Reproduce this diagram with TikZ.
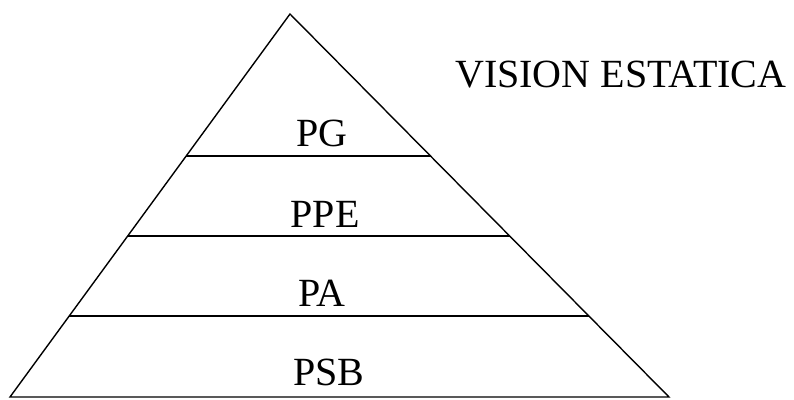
\documentclass[tikz,border=0pt]{standalone}
\usepackage{fontspec}
\setmainfont{Liberation Serif}
\usetikzlibrary{calc}
\begin{document}
\begin{tikzpicture}[x=1pt,y=-1pt,
  edge/.style={draw=black,line width=1.4pt},
  lbl/.style={font=\fontsize{40}{42}\selectfont,inner sep=0pt,anchor=base}]
\useasboundingbox[fill=white] (0,0) rectangle (794,399);
\coordinate (apex) at (290,14);
\coordinate (bl) at (10,397);
\coordinate (br) at (669,397);
\draw[edge,line join=miter] (bl) -- (apex) -- (br) -- cycle;
\foreach \t/\n in {0.3708/a,0.5796/b,0.7885/c}{
  \coordinate (l\n) at ($(apex)!\t!(bl)$);
  \coordinate (r\n) at ($(apex)!\t!(br)$);
  \draw[edge] (l\n) -- (r\n);
}
\node[lbl] (pg) at (322,146) {PG};
\node[lbl] (ppe) at (325,227) {PPE};
\node[lbl] (pa) at (322,306) {PA};
\node[lbl] (psb) at (329,385) {PSB};
\node[lbl,anchor=base west] (title) at (455,87) {VISION ESTATICA};
\end{tikzpicture}
\end{document}
